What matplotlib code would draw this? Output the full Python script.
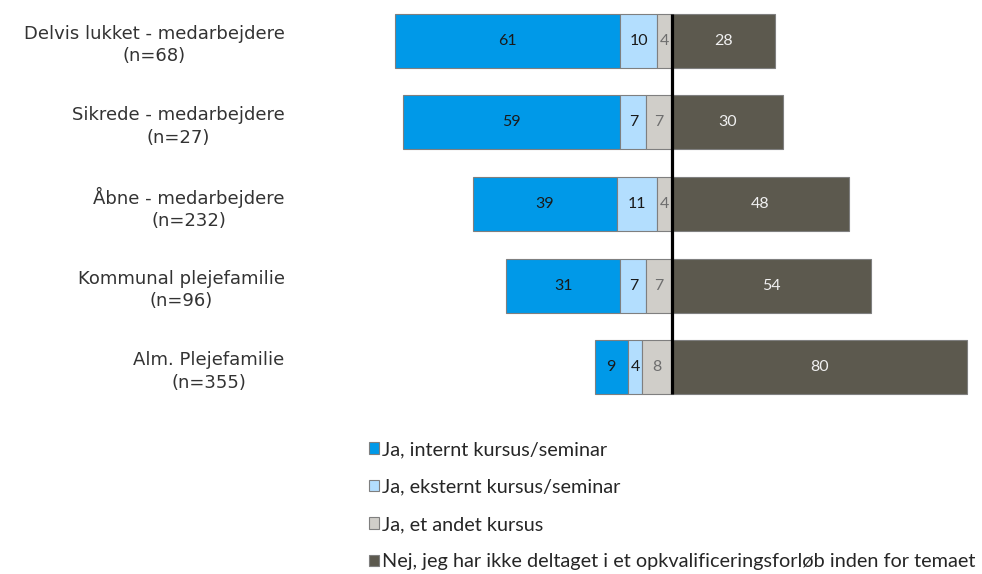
import matplotlib.pyplot as plt
import numpy as np

categories = ['Delvis lukket - medarbejdere\n(n=68)',
              'Sikrede - medarbejdere\n(n=27)',
              'Åbne - medarbejdere\n(n=232)',
              'Kommunal plejefamilie\n(n=96)',
              'Alm. Plejefamilie\n(n=355)']
internt = [61, 59, 39, 31, 9]
eksternt = [10, 7, 11, 7, 4]
andet = [4, 7, 4, 7, 8]
nej = [28, 30, 48, 54, 80]

series_names = ['Ja, internt kursus/seminar',
                'Ja, eksternt kursus/seminar',
                'Ja, et andet kursus',
                'Nej, jeg har ikke deltaget i et opkvalificeringsforløb inden for temaet']
colors = ['#0099E8', '#B3DEFE', '#D0CEC9', '#5C594E']
text_colors = ['#1a1a1a', '#1a1a1a', '#6e6e6e', '#f0f0f0']

fig = plt.figure(figsize=(9.82, 5.74), dpi=100)
ax = fig.add_axes([300 / 982, 1 - 408 / 574, 682 / 982, 408 / 574])

y = np.arange(len(categories))
h = 0.66
internt = np.array(internt)
eksternt = np.array(eksternt)
andet = np.array(andet)
nej = np.array(nej)

# left side stacks outward from zero: andet, eksternt, internt
lefts = [-(andet + eksternt + internt), -(andet + eksternt), -andet, np.zeros(len(y))]
widths = [internt, eksternt, andet, nej]

handles = []
for i in range(4):
    b = ax.barh(y, widths[i], left=lefts[i], height=h, color=colors[i],
                edgecolor='#7f7f7f', linewidth=0.8, label=series_names[i])
    handles.append(b)
    for j in range(len(y)):
        cx = lefts[i][j] + widths[i][j] / 2
        ax.text(cx, y[j], str(widths[i][j]), ha='center', va='center',
                fontsize=11.5, family='Lato', color=text_colors[i])

ax.vlines(0, -h / 2, len(y) - 1 + h / 2, color='black', linewidth=2.3, zorder=5)

ax.set_xlim(-(672 - 300) / 3.69, (982 - 672) / 3.69)
ax.set_ylim(4.5, -0.5)
ax.set_yticks(y)
ax.set_yticklabels(categories, fontsize=13, family='DejaVu Sans', color='#333333',
                   multialignment='center', linespacing=1.32)
ax.tick_params(axis='y', length=0, pad=11)
ax.set_xticks([])
for s in ax.spines.values():
    s.set_visible(False)

fig.legend(handles=handles, loc='upper left', bbox_to_anchor=(369 / 982, 1 - 441 / 574),
           frameon=False, prop={'family': 'Lato', 'size': 14.3}, handlelength=0.5,
           handleheight=0.5, handletextpad=0.15, labelspacing=1.03, borderaxespad=0,
           borderpad=0, labelcolor='#262626')

fig.savefig('out.png', dpi=100)
